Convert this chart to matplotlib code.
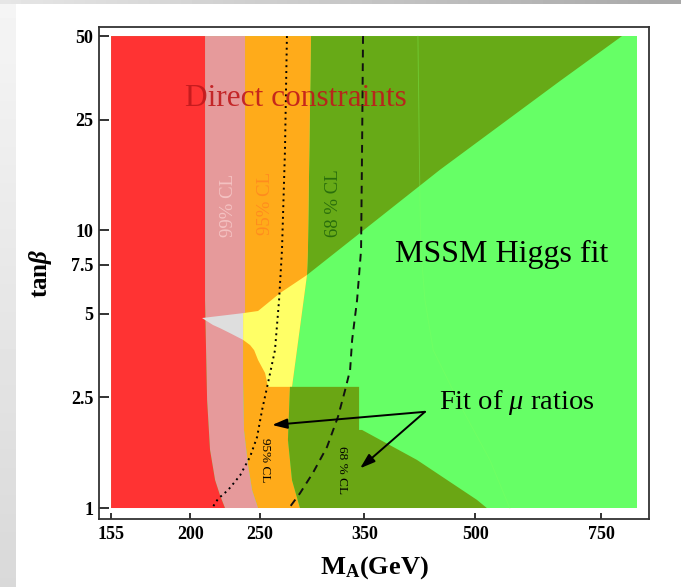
import numpy as np
import matplotlib.pyplot as plt
from matplotlib.patches import Polygon

plt.rcParams['font.family'] = ['Liberation Serif', 'DejaVu Serif']
plt.rcParams['mathtext.fontset'] = 'custom'
plt.rcParams['mathtext.rm'] = 'Liberation Serif'
plt.rcParams['mathtext.it'] = 'Liberation Serif:italic'
plt.rcParams['mathtext.bf'] = 'Liberation Serif:bold'
plt.rcParams['mathtext.bfit'] = 'Liberation Serif:italic:bold'

# plotted range
m_min, m_max = 155, 841
tb_min, tb_max = 1.0, 50.0

# boundaries in (M_A [GeV], tan beta)
red_edge_m = [209.7, 209.7, 211.1, 213.1, 216.6, 220.1, 223.6]
red_edge_tb = [50, 5.6, 2.45, 1.62, 1.26, 1.11, 1.0]

pink_edge_m = [238.5, 238.5, 237.0, 237.0, 237.7, 240.8, 244.0, 248.7]
pink_edge_tb = [50, 5.08, 4.75, 2.89, 1.91, 1.43, 1.16, 1.0]

orange_edge_m = [294.9, 292.0, 291.1, 277.4, 275.6, 273.8, 277.4, 284.6]
orange_edge_tb = [50, 8.5, 6.9, 2.73, 2.73, 1.76, 1.26, 1.0]

fit68_m = [294.9, 801.9, 656.4, 446.4, 291.1, 292.0]
fit68_tb = [50, 50, 34.4, 16.5, 6.9, 8.5]

yellow_m = [237.0, 248.7, 266.9, 291.1, 277.4, 256.8, 254.4, 248.7, 245.6, 242.4, 237.0]
yellow_tb = [5.03, 5.12, 5.94, 6.90, 2.73, 2.73, 3.06, 3.41, 3.70, 3.86, 4.03]

gray_m = [207.7, 237.0, 237.0, 227.3, 220.1, 215.1]
gray_tb = [4.83, 5.03, 4.03, 4.26, 4.44, 4.56]

ratios_m = [275.6, 344.2, 344.2, 347.5, 414.6, 502.8, 519.1, 284.6, 277.4, 273.8]
ratios_tb = [2.73, 2.73, 1.91, 1.91, 1.49, 1.07, 1.0, 1.0, 1.26, 1.76]

faint_m = [415.9, 418.6, 420.0, 425.4, 436.9, 480.6, 524.2, 558.9]
faint_tb = [50, 12.85, 8.46, 5.61, 3.70, 2.25, 1.49, 1.0]

dotted_m = [272.9, 271.2, 268.6, 266.1, 262.6, 256.8, 251.9, 247.9, 242.4, 234.7, 225.8, 218.7, 214.5]
dotted_tb = [50, 19.45, 8.49, 5.61, 3.70, 2.82, 2.25, 1.80, 1.53, 1.31, 1.16, 1.08, 1.0]

dashed_m = [348.6, 347.5, 346.4, 342.0, 336.6, 334.4, 329.1, 321.6, 310.5, 296.8, 284.6, 275.6]
dashed_tb = [50, 19.45, 8.49, 5.61, 4.03, 3.14, 2.66, 2.13, 1.66, 1.34, 1.13, 1.01]

xticks = [155, 200, 250, 350, 500, 750]
yticks = [1, 2.5, 5, 7.5, 10, 25, 50]

fig = plt.figure(figsize=(6.81, 5.87), dpi=100)
fig.patch.set_facecolor('white')

# slide-like gray border on the left and top
left_strip = fig.add_axes([0, 0, 16 / 681, 1], zorder=-5)
left_strip.imshow(np.linspace(0.96, 0.85, 64).reshape(-1, 1), cmap='gray', vmin=0, vmax=1,
                  aspect='auto', extent=[0, 1, 0, 1])
left_strip.axis('off')
top_strip = fig.add_axes([0, 1 - 4 / 587, 1, 4 / 587], zorder=-5)
top_strip.imshow(np.linspace(0.9, 0.66, 64).reshape(1, -1), cmap='gray', vmin=0, vmax=1,
                 aspect='auto', extent=[0, 1, 0, 1])
top_strip.axis('off')

ax = fig.add_axes([99 / 681, 1 - 519 / 587, 550 / 681, 492 / 587])
ax.set_xscale('log')
ax.set_yscale('log')
ax.set_xlim(149.1, 874.6)
ax.set_ylim(0.913, 53.9)


def patch(ms, tbs, color, z):
    ax.add_patch(Polygon(np.column_stack([ms, tbs]), closed=True, facecolor=color,
                         edgecolor='none', zorder=z))


patch([m_min, m_max, m_max, m_min], [tb_min, tb_min, tb_max, tb_max], '#66ff66', 1)
patch(fit68_m, fit68_tb, '#67aa17', 2)
patch(pink_edge_m + orange_edge_m[::-1], pink_edge_tb + orange_edge_tb[::-1], '#ffab1a', 2)
patch(red_edge_m + pink_edge_m[::-1], red_edge_tb + pink_edge_tb[::-1], '#e69a9b', 2)
patch([m_min] + red_edge_m[::-1] + [m_min], [tb_min] + red_edge_tb[::-1] + [tb_max], '#ff3333', 2)
patch(yellow_m, yellow_tb, '#ffff66', 3)
patch(gray_m, gray_tb, '#dedede', 3)
patch(ratios_m, ratios_tb, '#6aa614', 3)

ax.plot(faint_m, faint_tb, color='#80ff60', lw=0.7, alpha=0.35, zorder=4)
ax.plot(dotted_m, dotted_tb, color='black', lw=1.4, ls=(0, (1, 2)), zorder=5)
ax.plot(dashed_m, dashed_tb, color='#111111', lw=1.4, ls=(0, (4, 3)), zorder=5)

# labels
ax.text(281, 29.9, 'Direct constraints', color='#c0191c', fontsize=22.5, ha='center', va='center',
        alpha=0.9, zorder=6)
ax.text(544, 8.15, 'MSSM Higgs fit', color='black', fontsize=23, ha='center', va='center', zorder=6)
ax.text(445, 2.39, r'Fit of $\mu$ ratios', color='black', fontsize=20.5, ha='left', va='center',
        zorder=6)

ax.text(225.8, 12.3, '99% CL', color='#f4c2c2', fontsize=13.5, rotation=90, ha='center',
        va='center', zorder=6)
ax.text(254.4, 12.5, '95% CL', color='#ff8c1e', fontsize=13.5, rotation=90, ha='center',
        va='center', zorder=6)
ax.text(317.5, 12.5, '68 % CL', color='#2a6e0c', fontsize=13.5, rotation=90, ha='center',
        va='center', zorder=6)
ax.text(254.4, 1.48, '95% CL', color='black', fontsize=9.5, rotation=270, ha='center',
        va='center', zorder=6)
ax.text(325.8, 1.37, '68 % CL', color='black', fontsize=9.5, rotation=270, ha='center',
        va='center', zorder=6)

for head in [(260.2, 1.99), (345.3, 1.39)]:
    ax.annotate('', xy=head, xytext=(425.4, 2.22), zorder=7,
                arrowprops=dict(arrowstyle='-|>,head_length=0.9,head_width=0.3',
                                color='black', lw=1.4, shrinkA=0, shrinkB=0))

ax.set_xticks(xticks)
ax.set_xticklabels([str(v) for v in xticks])
ax.set_yticks(yticks)
ax.set_yticklabels(['1', '2.5', '5', '7.5', '10', '25', '50'])
ax.minorticks_off()
ax.tick_params(axis='x', direction='in', length=4, width=1.3, pad=5, labelsize=13, color='#222222')
ax.tick_params(axis='y', direction='in', length=7, width=1.3, pad=4, labelsize=13, color='#222222')
for lab in ax.get_xticklabels() + ax.get_yticklabels():
    lab.set_fontweight('bold')
for sp in ax.spines.values():
    sp.set_linewidth(1.3)
    sp.set_color('#333333')

ax.set_xlabel(r'$\mathbf{M_A(GeV)}$', fontsize=19, labelpad=8)
ax.set_ylabel(r'$\mathbf{tan}\boldsymbol{\beta}$', fontsize=18, labelpad=12)

fig.savefig('out.png', dpi=100)
